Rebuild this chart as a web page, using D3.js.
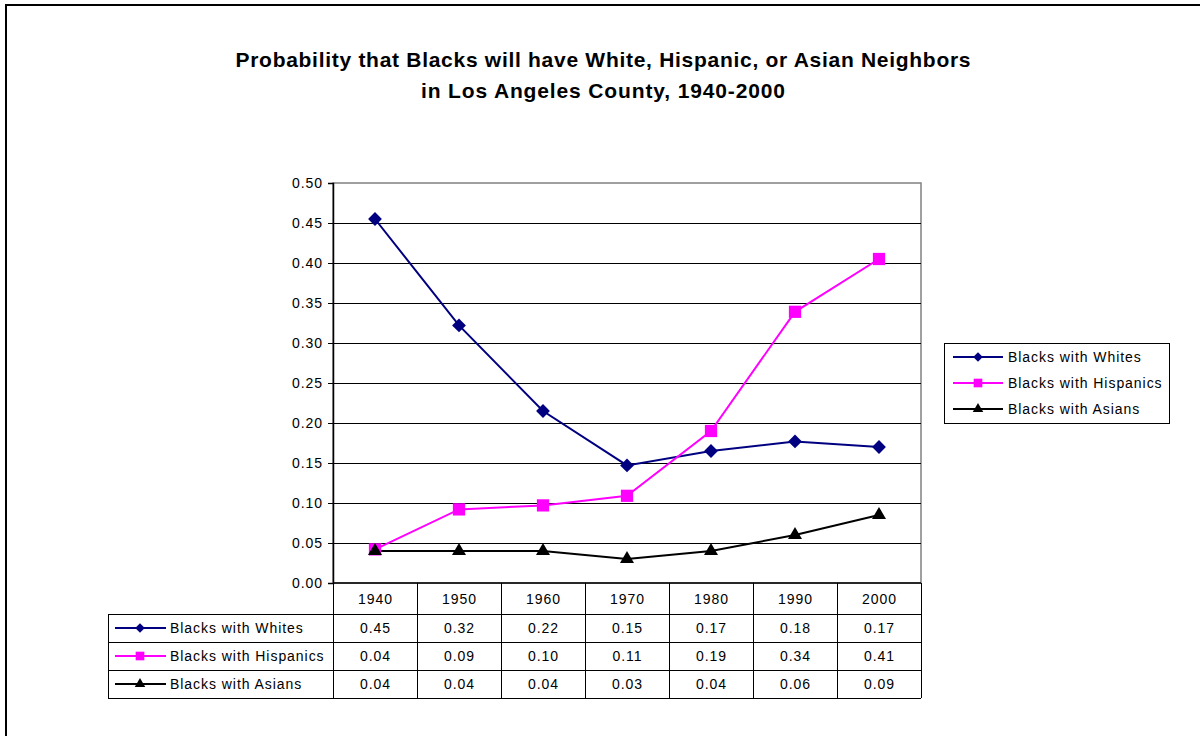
<!DOCTYPE html>
<html><head><meta charset="utf-8">
<script src="https://cdn.jsdelivr.net/npm/d3@7"></script>
<style>body{margin:0;background:#fff;} svg{display:block;font-family:"Liberation Sans",Arial,sans-serif;}</style>
</head><body>
<svg id="c" width="1200" height="736"></svg>
<script>
const years = ["1940","1950","1960","1970","1980","1990","2000"];
const whites = [0.455, 0.322, 0.215, 0.147, 0.165, 0.177, 0.170];
const hispanics = [0.042, 0.092, 0.097, 0.109, 0.190, 0.339, 0.405];
const asians = [0.040, 0.040, 0.040, 0.030, 0.040, 0.060, 0.085];
const whitesLabels = ["0.45","0.32","0.22","0.15","0.17","0.18","0.17"];
const hispanicsLabels = ["0.04","0.09","0.10","0.11","0.19","0.34","0.41"];
const asiansLabels = ["0.04","0.04","0.04","0.03","0.04","0.06","0.09"];
const yTicks = [0,0.05,0.10,0.15,0.20,0.25,0.30,0.35,0.40,0.45,0.50];
const titleLines = ["Probability that Blacks will have White, Hispanic, or Asian Neighbors","in Los Angeles County, 1940-2000"];

const diamond = {draw(ctx,size){const r=Math.sqrt(size/2);ctx.moveTo(0,-r);ctx.lineTo(r,0);ctx.lineTo(0,r);ctx.lineTo(-r,0);ctx.closePath();}};
const series = [
  {name:"Blacks with Whites", values:whites, labels:whitesLabels, color:"#000080", symbol:diamond, size:95, lsize:45},
  {name:"Blacks with Hispanics", values:hispanics, labels:hispanicsLabels, color:"#ff00ff", symbol:d3.symbolSquare, size:150, lsize:75},
  {name:"Blacks with Asians", values:asians, labels:asiansLabels, color:"#000000", symbol:d3.symbolTriangle, size:85, lsize:48}
];

const FS = 14, LS = 0.95;
const svg = d3.select("#c");
const L=333, R=921, T=183, B=583;
const x = d3.scaleBand().domain(years).range([L,R]);
const y = d3.scaleLinear().domain([0,0.5]).range([B,T]);

// outer border
svg.append("rect").attr("x",6).attr("y",5).attr("width",1200).attr("height",740)
  .attr("fill","none").attr("stroke","#000").attr("stroke-width",2);

// title
const titleW = [735, 364];
svg.append("g").selectAll("text").data(titleLines).join("text")
  .attr("x",603).attr("y",(d,i)=>67+i*31).attr("text-anchor","middle")
  .attr("font-size",21).attr("font-weight","bold")
  .attr("textLength",(d,i)=>titleW[i]).attr("lengthAdjust","spacing").text(d=>d);

// plot border
svg.append("rect").attr("x",L).attr("y",T).attr("width",R-L).attr("height",B-T)
  .attr("fill","none").attr("stroke","#808080").attr("stroke-width",1.5);

// gridlines
svg.append("g").selectAll("line").data(yTicks.filter(d=>d>0 && d<0.5)).join("line")
  .attr("x1",L).attr("x2",R).attr("y1",d=>Math.round(y(d))+0.5).attr("y2",d=>Math.round(y(d))+0.5)
  .attr("stroke","#000").attr("stroke-width",1);

// y axis
const yAxis = d3.axisLeft(y).tickValues(yTicks).tickFormat(d3.format(".2f")).tickSize(5).tickPadding(6);
const ga = svg.append("g").attr("transform",`translate(${L},0)`).call(yAxis);
ga.select(".domain").attr("stroke","#000").attr("stroke-width",1.5);
ga.selectAll(".tick line").attr("stroke","#000");
ga.selectAll("text").attr("font-size",FS).attr("letter-spacing",LS).attr("dx",LS)
  .attr("font-family","Liberation Sans, Arial, sans-serif").attr("fill","#000");

// table
const rowH = 28, headBot = 614;
const tableLeft = 108;
const rowTops = series.map((s,i)=>headBot + i*rowH);
const tableBottom = headBot + series.length*rowH;
const tg = svg.append("g").attr("stroke","#000").attr("stroke-width",1);
tg.append("line").attr("x1",L).attr("x2",R).attr("y1",B).attr("y2",B).attr("stroke-width",1.5);
[headBot, ...rowTops.slice(1), tableBottom].forEach(yy=>{
  tg.append("line").attr("x1",tableLeft).attr("x2",R).attr("y1",yy+0.5).attr("y2",yy+0.5);
});
tg.append("line").attr("x1",tableLeft+0.5).attr("x2",tableLeft+0.5).attr("y1",headBot).attr("y2",tableBottom);
years.forEach(yr=>{
  const xx = Math.round(x(yr))+0.5;
  tg.append("line").attr("x1",xx).attr("x2",xx).attr("y1",B).attr("y2",tableBottom);
});
tg.append("line").attr("x1",R+0.5).attr("x2",R+0.5).attr("y1",B).attr("y2",tableBottom);

// header labels
svg.append("g").selectAll("text").data(years).join("text")
  .attr("x",d=>x(d)+x.bandwidth()/2+LS/2).attr("y",headBot-10).attr("text-anchor","middle")
  .attr("font-size",FS).attr("letter-spacing",LS).text(d=>d);

// table rows
series.forEach((s,i)=>{
  const cy = rowTops[i] + rowH/2;
  const g = svg.append("g");
  g.append("line").attr("x1",115).attr("x2",166).attr("y1",cy).attr("y2",cy).attr("stroke",s.color).attr("stroke-width",2);
  g.append("path").attr("d",d3.symbol(s.symbol, s.lsize)()).attr("transform",`translate(140,${cy})`).attr("fill",s.color);
  g.append("text").attr("x",170).attr("y",cy+5).attr("font-size",FS).attr("letter-spacing",LS).text(s.name);
  g.selectAll("text.v").data(s.labels).join("text").attr("class","v")
    .attr("x",(d,j)=>x(years[j])+x.bandwidth()/2+LS/2).attr("y",cy+5).attr("text-anchor","middle")
    .attr("font-size",FS).attr("letter-spacing",LS).text(d=>d);
});

// lines and markers
const line = d3.line().x((d,i)=>x(years[i])+x.bandwidth()/2).y(d=>y(d));
series.forEach(s=>{
  svg.append("path").datum(s.values).attr("d",line).attr("fill","none").attr("stroke",s.color).attr("stroke-width",2);
});
series.forEach(s=>{
  svg.append("g").selectAll("path").data(s.values).join("path")
    .attr("d",d3.symbol(s.symbol, s.size)())
    .attr("transform",(d,i)=>`translate(${x(years[i])+x.bandwidth()/2},${y(d)})`)
    .attr("fill",s.color);
});

// legend
const lg = svg.append("g");
lg.append("rect").attr("x",944.5).attr("y",343.5).attr("width",225).attr("height",80)
  .attr("fill","#fff").attr("stroke","#000").attr("stroke-width",1);
series.forEach((s,i)=>{
  const cy = 357 + i*26;
  lg.append("line").attr("x1",953).attr("x2",1003).attr("y1",cy).attr("y2",cy).attr("stroke",s.color).attr("stroke-width",2);
  lg.append("path").attr("d",d3.symbol(s.symbol, s.lsize)()).attr("transform",`translate(978,${cy})`).attr("fill",s.color);
  lg.append("text").attr("x",1008).attr("y",cy+5).attr("font-size",FS).attr("letter-spacing",LS).text(s.name);
});
</script>
</body></html>
